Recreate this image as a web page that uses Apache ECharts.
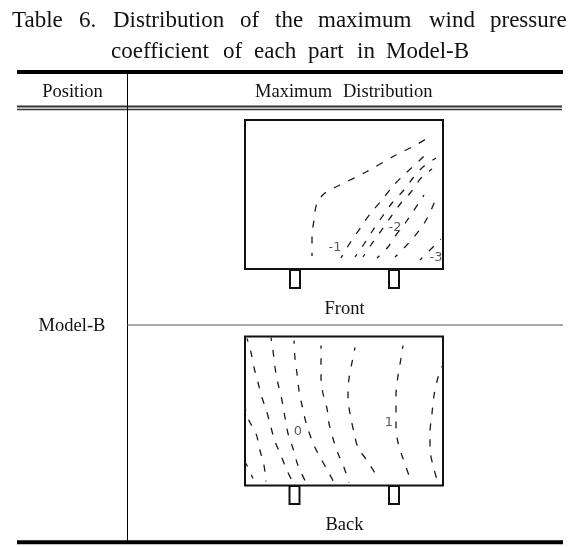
<!DOCTYPE html>
<html>
<head>
<meta charset="utf-8">
<style>
  html, body { margin: 0; padding: 0; background: #fff; }
  #chart { width: 587px; height: 547px; }
</style>
<script src="https://cdn.jsdelivr.net/npm/echarts@6/dist/echarts.min.js"></script>
</head>
<body>
<div id="chart"></div>
<script>
// table text, one word at a time because the source is justified
var titleLine1 = [["Table", 12], ["6.", 79], ["Distribution", 113], ["of", 240], ["the", 275], ["maximum", 318], ["wind", 429], ["pressure", 490]];
var titleLine2 = [["coefficient", 111], ["of", 223], ["each", 254], ["part", 308], ["in", 357], ["Model-B", 386]];
var headerWords = [["Maximum", 255], ["Distribution", 343]];

// front panel contours, x/y measured from the panel's lower left corner
var frontA = [[67,13],[67,32],[69,49],[72,66],[80,76],[95,84],[121,97],[151,114],[171,124],[184,132]];
var frontB = [[96,11],[105,26],[116,42],[125,55],[137,69],[148,83],[161,96],[175,109],[185,119]];
var frontC = [[110,12],[119,25],[128,39],[137,52],[147,66],[158,78],[168,91],[178,102],[191,111]];
var frontD = [[118,12],[126,24],[136,38],[145,51],[156,66],[166,77],[176,91],[187,100]];
var frontE = [[132,11],[143,22],[151,34],[161,47],[179,74]];
var frontF = [[150,12],[160,22],[169,32],[180,47],[187,61],[192,73]];
var frontG = [[175,9],[185,19],[196,30]];
var frontLabels = [[90,21,"-1"],[150,41,"-2"],[191,11,"-3"]];

// back panel contours
var backA = [[1,22],[8,7]];
var backB = [[0,78],[4,65],[11,52],[15,35],[19,20],[21,4]];
var backC = [[2,147],[6,133],[9,118],[13,103],[17,88],[22,73],[26,58],[30,44],[36,30],[42,15],[48,3]];
var backD = [[26,148],[28,135],[30,118],[33,102],[37,85],[40,68],[43,52],[48,37],[53,20],[60,5]];
var backE = [[49,145],[50,127],[52,112],[54,95],[57,80],[61,63],[67,45],[73,32],[82,16],[89,3]];
var backF = [[76,140],[76,125],[76,108],[78,92],[82,77],[84,62],[88,47],[93,32],[99,18],[104,3]];
var backG = [[110,138],[107,123],[104,107],[103,88],[105,72],[109,53],[113,38],[122,25],[131,11]];
var backH = [[158,140],[156,127],[153,110],[151,90],[151,60],[153,43],[158,27],[164,10]];
var backI = [[198,121],[193,108],[189,90],[187,72],[185,53],[185,37],[188,20],[192,6]];
var backLabels = [[53,54,"0"],[144,63,"1"]];

var frontLines = [frontA, frontB, frontC, frontD, frontE, frontF, frontG];
var backLines = [backA, backB, backC, backD, backE, backF, backG, backH, backI];

var serif = '"Liberation Serif", serif';

function textItem(str, x, y, size, align) {
  return {
    type: "text",
    x: x,
    y: y,
    style: { text: str, font: size + "px " + serif, fill: "#111", textAlign: align || "left", textVerticalAlign: "middle" },
  };
}
function rule(x1, y1, x2, y2, width, color) {
  return {
    type: "line",
    shape: { x1: x1, y1: y1, x2: x2, y2: y2 },
    style: { stroke: color || "#000", lineWidth: width },
  };
}
function leg(x, y) {
  return {
    type: "rect",
    shape: { x: x, y: y, width: 10, height: 18 },
    style: { fill: "#fff", stroke: "#111", lineWidth: 2 },
  };
}

var graphics = [
  rule(17, 72, 563, 72, 4),
  rule(17, 106.5, 562, 106.5, 2, "#333"),
  rule(17, 109.5, 562, 109.5, 1.5, "#333"),
  rule(127.5, 72, 127.5, 542, 1),
  rule(127, 325, 563, 325, 1.2, "#555"),
  rule(17, 542.3, 563, 542.3, 4),
  textItem("Position", 72.5, 91.8, 18.5, "center"),
  textItem("Model-B", 72, 326.5, 18.5, "center"),
  textItem("Front", 344.5, 308.8, 18.5, "center"),
  textItem("Back", 344.5, 525.5, 18.5, "center"),
  leg(290, 270),
  leg(389, 270),
  leg(289.5, 486),
  leg(389, 486),
];
titleLine1.forEach(function (w) { graphics.push(textItem(w[0], w[1], 21, 23)); });
titleLine2.forEach(function (w) { graphics.push(textItem(w[0], w[1], 52, 23)); });
headerWords.forEach(function (w) { graphics.push(textItem(w[0], w[1], 91.8, 18.5)); });

var series = [];
function addPanel(lines, labels, index) {
  lines.forEach(function (pts) {
    series.push({
      type: "line",
      xAxisIndex: index,
      yAxisIndex: index,
      data: pts,
      smooth: 0.3,
      symbol: "none",
      silent: true,
      lineStyle: { color: "#1a1a1a", width: 1.3, type: [7, 9], dashOffset: 3.5 },
    });
  });
  series.push({
    type: "scatter",
    xAxisIndex: index,
    yAxisIndex: index,
    data: labels,
    symbolSize: 0,
    silent: true,
    label: {
      show: true,
      position: "inside",
      formatter: function (p) { return p.value[2]; },
      fontFamily: "DejaVu Sans",
      fontSize: 13,
      color: "#333",
    },
  });
}
addPanel(frontLines, frontLabels, 0);
addPanel(backLines, backLabels, 1);

function hiddenAxis(max, grid) {
  return { type: "value", min: 0, max: max, show: false, gridIndex: grid };
}

var chart = echarts.init(document.getElementById("chart"));
chart.setOption({
  animation: false,
  grid: [
    { left: 245, top: 120, width: 198, height: 149, show: true, borderColor: "#111", borderWidth: 2 },
    { left: 245, top: 336.5, width: 198, height: 149, show: true, borderColor: "#111", borderWidth: 2 },
  ],
  xAxis: [hiddenAxis(198, 0), hiddenAxis(198, 1)],
  yAxis: [hiddenAxis(149, 0), hiddenAxis(149, 1)],
  series: series,
  graphic: graphics,
});
</script>
</body>
</html>
